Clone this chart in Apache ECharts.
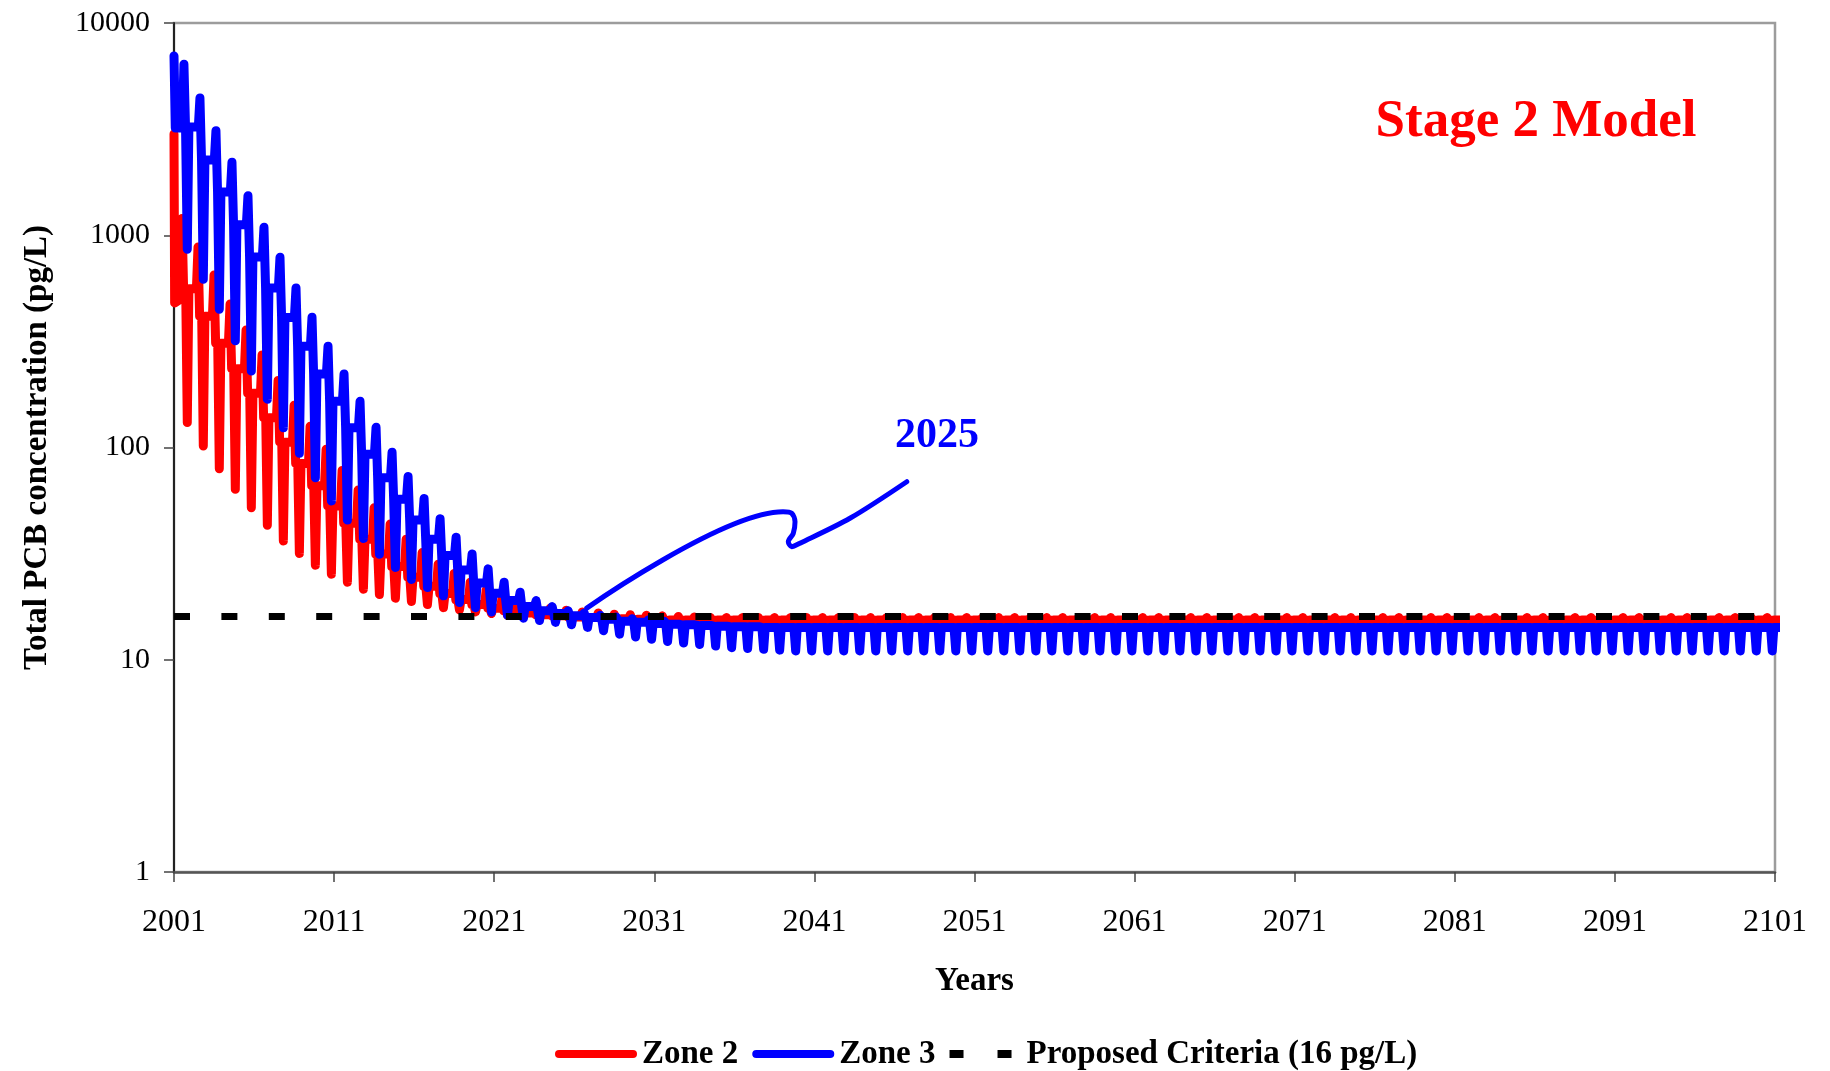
<!DOCTYPE html>
<html>
<head>
<meta charset="utf-8">
<title>Total PCB concentration – Stage 2 Model</title>
<script src="https://cdn.jsdelivr.net/npm/echarts@6/dist/echarts.min.js"></script>
<style>
  html, body { margin: 0; padding: 0; background: #fff; }
  #chart { width: 1830px; height: 1071px; }
</style>
</head>
<body>
<div id="chart"></div>
<script>
// ---- axis ticks ----
const xTicks = [2001, 2011, 2021, 2031, 2041, 2051, 2061, 2071, 2081, 2091, 2101];
const yTicks = [1, 10, 100, 1000, 10000];

// ---- Zone 2: first-year start, then per-year peak / plateau / trough (2001 … 2100) ----
const zone2StartYears = [2001.0, 2001.04, 2001.40];
const zone2StartValues = [3000, 480, 500];
const zone2Peak = [
  1200, 880, 650, 474, 358, 273, 207, 158, 126, 98,
  78, 63, 52, 43.6, 37, 32, 28.2, 25.5, 23.2, 21.3,
  19.9, 18.9, 18.1, 17.5, 17.1, 16.8, 16.6, 16.4, 16.3, 16.2,
  16.1, 16.0, 15.9, 15.8, 15.8, 15.8, 15.8, 15.8, 15.8, 15.8,
  15.8, 15.8, 15.8, 15.8, 15.8, 15.8, 15.8, 15.8, 15.8, 15.8,
  15.8, 15.8, 15.8, 15.8, 15.8, 15.8, 15.8, 15.8, 15.8, 15.8,
  15.8, 15.8, 15.8, 15.8, 15.8, 15.8, 15.8, 15.8, 15.8, 15.8,
  15.8, 15.8, 15.8, 15.8, 15.8, 15.8, 15.8, 15.8, 15.8, 15.8,
  15.8, 15.8, 15.8, 15.8, 15.8, 15.8, 15.8, 15.8, 15.8, 15.8,
  15.8, 15.8, 15.8, 15.8, 15.8, 15.8, 15.8, 15.8, 15.8, 15.8
];
const zone2Base = [
  560, 415, 310, 235, 180, 138, 106, 84, 66, 53,
  44, 37, 31.5, 27.5, 24.5, 22.2, 20.5, 19.2, 18.2, 17.5,
  17.0, 16.6, 16.3, 16.1, 15.9, 15.8, 15.7, 15.6, 15.5, 15.4,
  15.4, 15.4, 15.4, 15.4, 15.4, 15.4, 15.4, 15.4, 15.4, 15.4,
  15.4, 15.4, 15.4, 15.4, 15.4, 15.4, 15.4, 15.4, 15.4, 15.4,
  15.4, 15.4, 15.4, 15.4, 15.4, 15.4, 15.4, 15.4, 15.4, 15.4,
  15.4, 15.4, 15.4, 15.4, 15.4, 15.4, 15.4, 15.4, 15.4, 15.4,
  15.4, 15.4, 15.4, 15.4, 15.4, 15.4, 15.4, 15.4, 15.4, 15.4,
  15.4, 15.4, 15.4, 15.4, 15.4, 15.4, 15.4, 15.4, 15.4, 15.4,
  15.4, 15.4, 15.4, 15.4, 15.4, 15.4, 15.4, 15.4, 15.4, 15.4
];
const zone2Trough = [
  131, 101.6, 79.4, 63.5, 52, 43, 36.3, 31.7, 27.9, 25.3,
  23.2, 21.5, 20.3, 19.5, 18.8, 18.2, 17.6, 17.2, 16.8, 16.5,
  16.2, 16.0, 15.8, 15.6, 15.4, 15.3, 15.2, 15.1, 15.1, 15.0,
  15.0, 15.0, 15.0, 15.0, 15.0, 15.0, 15.0, 15.0, 15.0, 15.0,
  15.0, 15.0, 15.0, 15.0, 15.0, 15.0, 15.0, 15.0, 15.0, 15.0,
  15.0, 15.0, 15.0, 15.0, 15.0, 15.0, 15.0, 15.0, 15.0, 15.0,
  15.0, 15.0, 15.0, 15.0, 15.0, 15.0, 15.0, 15.0, 15.0, 15.0,
  15.0, 15.0, 15.0, 15.0, 15.0, 15.0, 15.0, 15.0, 15.0, 15.0,
  15.0, 15.0, 15.0, 15.0, 15.0, 15.0, 15.0, 15.0, 15.0, 15.0,
  15.0, 15.0, 15.0, 15.0, 15.0, 15.0, 15.0, 15.0, 15.0, 15.0
];

// ---- Zone 3 ----
const zone3StartYears = [2001.0, 2001.08, 2001.52];
const zone3StartValues = [7000, 3200, 3200];
const zone3Peak = [
  6400, 4435, 3110, 2210, 1535, 1090, 787, 565, 411, 300,
  222, 165, 124.5, 95, 73, 57.5, 46.2, 37.8, 31.5, 26.8,
  23.2, 20.8, 19.0, 17.8, 17.0, 16.6, 16.2, 15.9, 15.6, 15.4,
  15.2, 15.0, 14.9, 14.8, 14.7, 14.6, 14.5, 14.4, 14.4, 14.4,
  14.4, 14.4, 14.4, 14.4, 14.4, 14.4, 14.4, 14.4, 14.4, 14.4,
  14.4, 14.4, 14.4, 14.4, 14.4, 14.4, 14.4, 14.4, 14.4, 14.4,
  14.4, 14.4, 14.4, 14.4, 14.4, 14.4, 14.4, 14.4, 14.4, 14.4,
  14.4, 14.4, 14.4, 14.4, 14.4, 14.4, 14.4, 14.4, 14.4, 14.4,
  14.4, 14.4, 14.4, 14.4, 14.4, 14.4, 14.4, 14.4, 14.4, 14.4,
  14.4, 14.4, 14.4, 14.4, 14.4, 14.4, 14.4, 14.4, 14.4, 14.4
];
const zone3Base = [
  3240, 2260, 1600, 1120, 790, 565, 410, 300, 222, 165,
  124, 93, 72, 57, 45.5, 37, 31, 26.5, 23, 20.6,
  19.0, 17.8, 17.0, 16.5, 16.1, 15.8, 15.5, 15.2, 15.0, 14.8,
  14.7, 14.6, 14.5, 14.4, 14.3, 14.3, 14.2, 14.2, 14.2, 14.2,
  14.2, 14.2, 14.2, 14.2, 14.2, 14.2, 14.2, 14.2, 14.2, 14.2,
  14.2, 14.2, 14.2, 14.2, 14.2, 14.2, 14.2, 14.2, 14.2, 14.2,
  14.2, 14.2, 14.2, 14.2, 14.2, 14.2, 14.2, 14.2, 14.2, 14.2,
  14.2, 14.2, 14.2, 14.2, 14.2, 14.2, 14.2, 14.2, 14.2, 14.2,
  14.2, 14.2, 14.2, 14.2, 14.2, 14.2, 14.2, 14.2, 14.2, 14.2,
  14.2, 14.2, 14.2, 14.2, 14.2, 14.2, 14.2, 14.2, 14.2, 14.2
];
const zone3Trough = [
  859, 620, 448, 318, 229, 169, 124, 94, 72, 56,
  45.5, 37.3, 31.4, 27.2, 23.9, 21.9, 20.0, 18.6, 17.6, 16.8,
  16.2, 15.7, 15.3, 15.0, 14.6, 14.2, 13.7, 13.2, 12.8, 12.5,
  12.2, 12.0, 11.8, 11.6, 11.4, 11.3, 11.2, 11.1, 11.0, 11.0,
  11.0, 11.0, 11.0, 11.0, 11.0, 11.0, 11.0, 11.0, 11.0, 11.0,
  11.0, 11.0, 11.0, 11.0, 11.0, 11.0, 11.0, 11.0, 11.0, 11.0,
  11.0, 11.0, 11.0, 11.0, 11.0, 11.0, 11.0, 11.0, 11.0, 11.0,
  11.0, 11.0, 11.0, 11.0, 11.0, 11.0, 11.0, 11.0, 11.0, 11.0,
  11.0, 11.0, 11.0, 11.0, 11.0, 11.0, 11.0, 11.0, 11.0, 11.0,
  11.0, 11.0, 11.0, 11.0, 11.0, 11.0, 11.0, 11.0, 11.0, 11.0
];

// ---- proposed criteria ----
const criteriaValue = 16;

// ---- "2025" call-out line (year, pg/L) ----
const noteYears  = [2026.78, 2039.04, 2039.58, 2039.79, 2039.68, 2039.37, 2039.58, 2040.10, 2043.22, 2046.77];
const noteValues = [17.5, 49.8, 49.0, 44.7, 39.4, 36.0, 34.1, 35.4, 46.4, 69.0];

// Season timing within a model year (fraction of year)
const FIRST_YEAR = 2001;
const TROUGH_AT = 0.83;
const SPIKE = 0.1;
function seasonalSeries(startYears, startValues, peaks, bases, troughs, peakAt) {
  const pts = startYears.map((t, k) => [t, startValues[k]]);
  peaks.forEach((p, i) => {
    const y = FIRST_YEAR + i;
    pts.push([y + peakAt, p]);
    pts.push([y + peakAt + SPIKE, bases[i]]);
    pts.push([y + TROUGH_AT - SPIKE, bases[i]]);
    pts.push([y + TROUGH_AT, troughs[i]]);
    pts.push([y + TROUGH_AT + SPIKE, bases[i]]);
    pts.push([y + 1 + peakAt - SPIKE, bases[i]]);
  });
  return pts;
}

const zone2Data = seasonalSeries(zone2StartYears, zone2StartValues, zone2Peak, zone2Base, zone2Trough, 0.5);
const zone3Data = seasonalSeries(zone3StartYears, zone3StartValues, zone3Peak, zone3Base, zone3Trough, 0.62);
const criteriaData = [[xTicks[0], criteriaValue], [xTicks[xTicks.length - 1], criteriaValue]];
const noteData = noteYears.map((t, k) => [t, noteValues[k]]);

const SERIF = "'Liberation Serif', 'Times New Roman', serif";
// legend glyphs: rounded bar for the zones, two short dashes for the criteria
const BAR_ICON = 'path://M4,0H78A4,4 0 0 1 78,8H4A4,4 0 0 1 4,0Z';
const DASH_ICON = 'path://M0,0h14v8h-14zM48,0h14v8h-14z';

const chart = echarts.init(document.getElementById('chart'), null, { renderer: 'canvas' });
chart.setOption({
  animation: false,
  backgroundColor: '#ffffff',
  grid: {
    left: 174, right: 55, top: 23, bottom: 199,
    show: true, borderColor: '#9c9c9c', borderWidth: 2.5, backgroundColor: 'transparent'
  },
  xAxis: {
    type: 'value',
    min: xTicks[0],
    max: xTicks[xTicks.length - 1],
    interval: xTicks[1] - xTicks[0],
    name: 'Years',
    nameLocation: 'middle',
    nameGap: 93,
    nameTextStyle: { fontFamily: SERIF, fontSize: 33, fontWeight: 'bold', color: '#000' },
    axisLine: { lineStyle: { color: '#555', width: 2.5 } },
    axisTick: { show: true, length: 10, lineStyle: { color: '#444', width: 1.5 } },
    axisLabel: { fontFamily: SERIF, fontSize: 32, color: '#000', margin: 35, formatter: v => String(Math.round(v)) },
    splitLine: { show: false }
  },
  yAxis: {
    type: 'log',
    logBase: 10,
    min: yTicks[0],
    max: yTicks[yTicks.length - 1],
    name: 'Total PCB concentration (pg/L)',
    nameLocation: 'middle',
    nameRotate: 90,
    nameGap: 120,
    nameTextStyle: { fontFamily: SERIF, fontSize: 33, fontWeight: 'bold', color: '#000' },
    axisLine: { show: true, lineStyle: { color: '#222', width: 2 } },
    axisTick: { show: true, length: 10, lineStyle: { color: '#444', width: 1.5 } },
    minorTick: { show: false },
    axisLabel: { fontFamily: SERIF, fontSize: 30, color: '#000', margin: 24, formatter: v => String(Math.round(v)) },
    splitLine: { show: false }
  },
  legend: {
    data: [
      { name: 'Zone 2', icon: BAR_ICON },
      { name: 'Zone 3', icon: BAR_ICON },
      { name: 'Proposed Criteria (16 pg/L)', icon: DASH_ICON }
    ],
    left: 550,
    top: 1031,
    itemWidth: 82,
    itemHeight: 8,
    itemGap: 14,
    selectedMode: false,
    textStyle: { fontFamily: SERIF, fontSize: 33, fontWeight: 'bold', color: '#000', lineHeight: 36 }
  },
  series: [
    {
      name: 'Zone 2', type: 'line', data: zone2Data, symbol: 'none', smooth: false,
      lineStyle: { color: '#ff0000', width: 9, cap: 'round', join: 'round' },
      itemStyle: { color: '#ff0000' }, z: 2, silent: true
    },
    {
      name: 'Zone 3', type: 'line', data: zone3Data, symbol: 'none', smooth: false,
      lineStyle: { color: '#0000ff', width: 9, cap: 'round', join: 'round' },
      itemStyle: { color: '#0000ff' }, z: 3, silent: true
    },
    {
      name: 'Proposed Criteria (16 pg/L)', type: 'line', data: criteriaData, symbol: 'none',
      lineStyle: { color: '#000000', width: 7, type: [16, 31.4], cap: 'butt' },
      itemStyle: { color: '#000000' }, z: 4, silent: true
    },
    {
      name: '2025 call-out', type: 'line', data: noteData, symbol: 'none', smooth: 0.3,
      lineStyle: { color: '#0000ff', width: 5, cap: 'round', join: 'round' },
      z: 5, silent: true
    }
  ],
  graphic: [
    {
      type: 'text', x: 1536, y: 122, silent: true,
      style: { text: 'Stage 2 Model', fill: '#ff0000', font: 'bold 53px ' + SERIF, textAlign: 'center', textVerticalAlign: 'middle' }
    },
    {
      type: 'text', x: 937, y: 436, silent: true,
      style: { text: '2025', fill: '#0000ff', font: 'bold 42px ' + SERIF, textAlign: 'center', textVerticalAlign: 'middle' }
    }
  ]
});
</script>
</body>
</html>
